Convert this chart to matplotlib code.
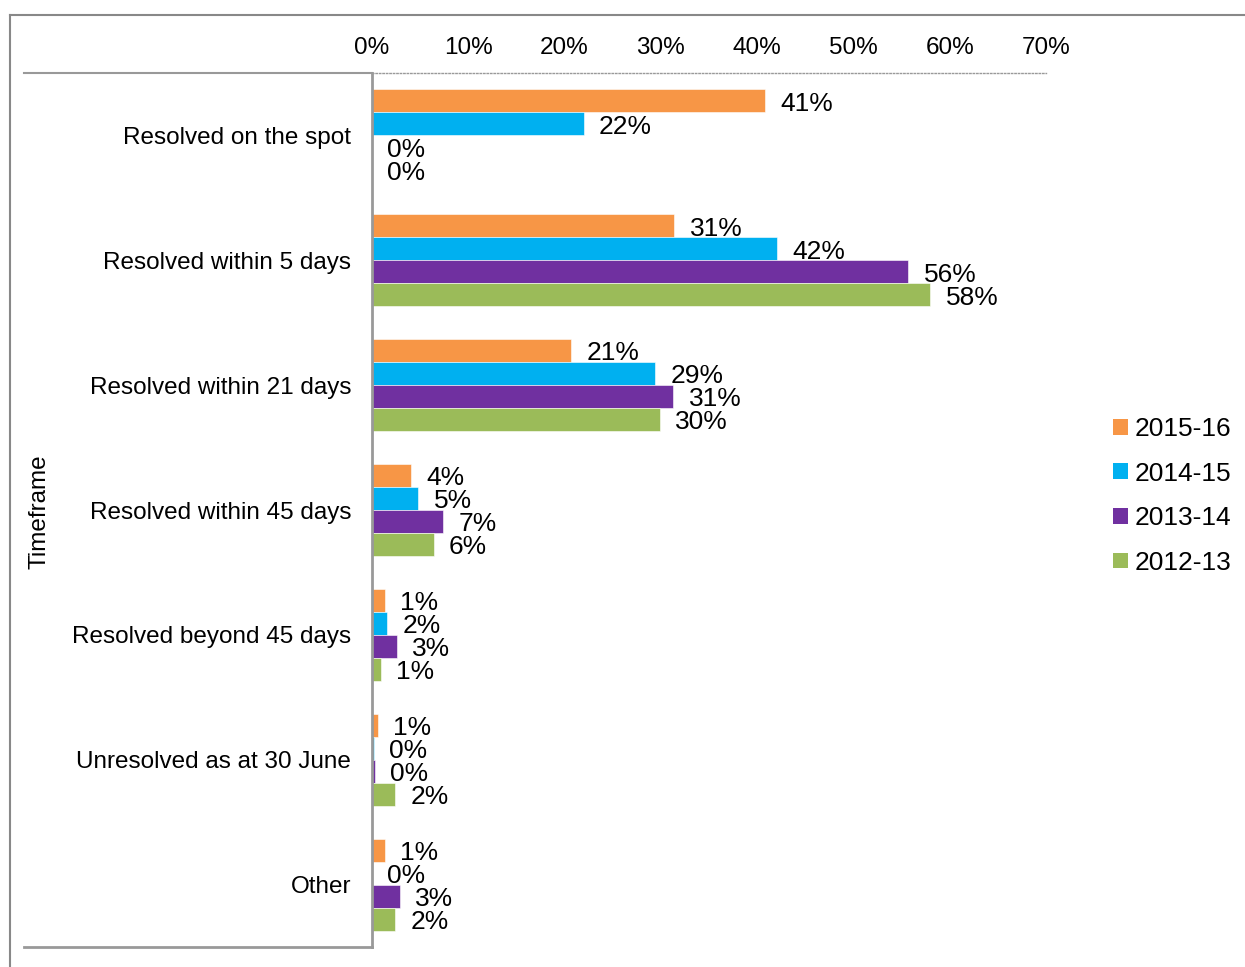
import numpy as np
import matplotlib.pyplot as plt
from matplotlib.lines import Line2D
from matplotlib.patches import Patch

plt.rcParams['font.family'] = ['Liberation Sans', 'DejaVu Sans']

categories = ["Resolved on the spot", "Resolved within 5 days", "Resolved within 21 days",
              "Resolved within 45 days", "Resolved beyond 45 days", "Unresolved as at 30 June",
              "Other"]
years = ["2015-16", "2014-15", "2013-14", "2012-13"]
colors = ["#F79646", "#00B0F0", "#7030A0", "#9BBB59"]

# percent values per year, one entry per category
v_2015 = [40.8, 31.4, 20.7, 4.05, 1.35, 0.6, 1.35]
v_2014 = [22.0, 42.1, 29.4, 4.8, 1.6, 0.2, 0.0]
v_2013 = [0.0, 55.7, 31.3, 7.4, 2.6, 0.3, 2.9]
v_2012 = [0.0, 58.0, 29.9, 6.4, 0.9, 2.4, 2.4]
series = [v_2015, v_2014, v_2013, v_2012]

W, H = 1245, 967
fig = plt.figure(figsize=(W / 100, H / 100), dpi=100)
ax = fig.add_axes([372 / W, 1 - 947 / H, (1046 - 372) / W, (947 - 73) / H])

fs = 17.5
fs_big = 19
bh = 0.184
y = np.arange(len(categories))
for k, (vals, col, lab) in enumerate(zip(series, colors, years)):
    pos = y - 1.5 * bh + k * bh
    ax.barh(pos, vals, height=bh, color=col, edgecolor="white", linewidth=0.4, label=lab)
    for p, v in zip(pos, vals):
        ax.annotate(f"{v:.0f}%", (v, p), xytext=(11, -2), textcoords="offset points",
                    va="center", ha="left", fontsize=fs_big)

ax.set_xlim(0, 70)
ax.set_ylim(len(categories) - 0.5, -0.5)
ax.set_xticks(range(0, 71, 10))
ax.set_xticklabels([f"{t}%" for t in range(0, 71, 10)], fontsize=fs)
ax.xaxis.tick_top()
ax.tick_params(axis="x", length=0, pad=10)
ax.set_yticks(y)
ax.set_yticklabels(categories, fontsize=fs)
ax.tick_params(axis="y", length=0, pad=15)

for s in ["right", "bottom"]:
    ax.spines[s].set_visible(False)
ax.spines["top"].set_linestyle((0, (1, 1.5)))
ax.spines["top"].set_color("#999999")
ax.spines["top"].set_linewidth(1)
ax.spines["left"].set_color("#999999")
ax.spines["left"].set_linewidth(2)

# category header lines and outer frame
lc = "#999999"
fig.add_artist(Line2D([24 / W, 372 / W], [1 - 73 / H, 1 - 73 / H], color=lc, lw=1.5))
fig.add_artist(Line2D([24 / W, 372 / W], [1 - 947 / H, 1 - 947 / H], color=lc, lw=2))
fig.add_artist(Line2D([10 / W, 1], [1 - 15 / H, 1 - 15 / H], color="#888888", lw=1.5))
fig.add_artist(Line2D([10 / W, 10 / W], [0, 1 - 15 / H], color="#888888", lw=1.5))

fig.text(39 / W, 1 - 512 / H, "Timeframe", rotation=90, fontsize=fs, ha="center", va="center")

handles = [Patch(facecolor=c, label=l) for c, l in zip(colors, years)]
fig.legend(handles=handles, loc="center left", bbox_to_anchor=(1100 / W, 1 - 496 / H),
           frameon=False, fontsize=fs_big, handlelength=0.55, handleheight=0.55,
           handletextpad=0.25, labelspacing=0.78, borderpad=0)

fig.savefig("out.png", dpi=100)
